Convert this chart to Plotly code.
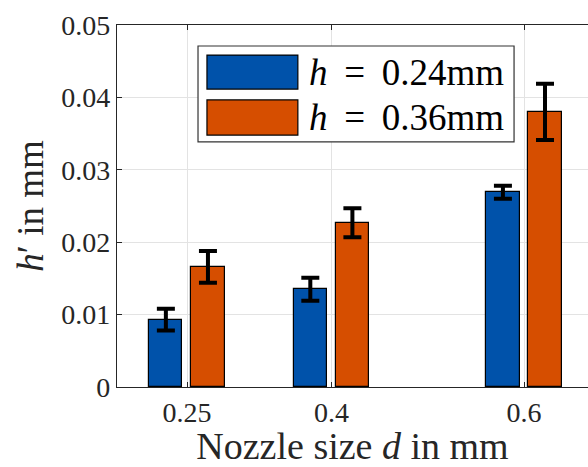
import plotly.graph_objects as go

nozzle = [0.25, 0.4, 0.6]
h024 = [0.0093, 0.0135, 0.0269]
h024_err = [0.0015, 0.0016, 0.0009]
h036 = [0.0166, 0.0227, 0.0380]
h036_err = [0.0022, 0.0020, 0.0039]
labels = ["<i>h</i> \u2009=\u2009 0.24mm", "<i>h</i> \u2009=\u2009 0.36mm"]
xticks = [0.25, 0.4, 0.6]
yticks = [0, 0.01, 0.02, 0.03, 0.04, 0.05]
ytext = ["0", "0.01", "0.02", "0.03", "0.04", "0.05"]

blue = "#0052AA"
orange = "#D64E00"
FONT = "Liberation Serif"

fig = go.Figure()
fig.add_trace(go.Bar(
    x=nozzle, y=h024, width=0.0345, offset=-0.0392,
    marker=dict(color=blue, line=dict(color="black", width=1.2)),
    error_y=dict(type="data", array=h024_err, color="black", thickness=4, width=9),
    name=labels[0], showlegend=False))
fig.add_trace(go.Bar(
    x=nozzle, y=h036, width=0.0345, offset=0.0045,
    marker=dict(color=orange, line=dict(color="black", width=1.2)),
    error_y=dict(type="data", array=h036_err, color="black", thickness=4, width=9),
    name=labels[1], showlegend=False))

# manual legend (paper coords relative to plot area)
fig.add_shape(type="rect", xref="paper", yref="paper", x0=0.172, x1=0.843, y0=0.677, y1=0.942,
              line=dict(color="#333333", width=1.2), fillcolor="white", layer="above")
for (y0, y1, col, lab, yc) in [(0.823, 0.917, blue, labels[0], 0.870),
                               (0.696, 0.793, orange, labels[1], 0.744)]:
    fig.add_shape(type="rect", xref="paper", yref="paper", x0=0.191, x1=0.384, y0=y0, y1=y1,
                  line=dict(color="black", width=1.2), fillcolor=col, layer="above")
    fig.add_annotation(xref="paper", yref="paper", x=0.403, y=yc, text=lab, showarrow=False,
                       xanchor="left", yanchor="middle", font=dict(family=FONT, size=37, color="black"))

fig.update_layout(
    width=588, height=467,
    margin=dict(l=117, r=0, t=25, b=80),
    paper_bgcolor="white", plot_bgcolor="white",
    bargap=0, showlegend=False,
    font=dict(family=FONT, color="#262626"),
)
fig.update_xaxes(
    range=[0.1773, 0.6664], tickvals=xticks, ticktext=["0.25", "0.4", "0.6"],
    tickfont=dict(size=28, family=FONT, color="#262626"),
    showgrid=True, gridcolor="#e3e3e3", gridwidth=1,
    showline=True, linecolor="#262626", linewidth=1.2, mirror="ticks",
    ticks="inside", ticklen=5, tickcolor="#262626",
    title=dict(text="Nozzle size <i>d</i> in mm", font=dict(size=38, family=FONT, color="#262626"), standoff=4),
    zeroline=False,
)
fig.update_yaxes(
    range=[0, 0.05], tickvals=yticks, ticktext=ytext,
    tickfont=dict(size=28, family=FONT, color="#262626"),
    showgrid=True, gridcolor="#e3e3e3", gridwidth=1,
    showline=True, linecolor="#262626", linewidth=1.2,
    ticks="inside", ticklen=5, tickcolor="#262626",
    title=dict(text="<i>h</i>′ in mm", font=dict(size=37, family=FONT, color="#262626"), standoff=6),
    zeroline=False,
)

fig.write_html("out.html")
